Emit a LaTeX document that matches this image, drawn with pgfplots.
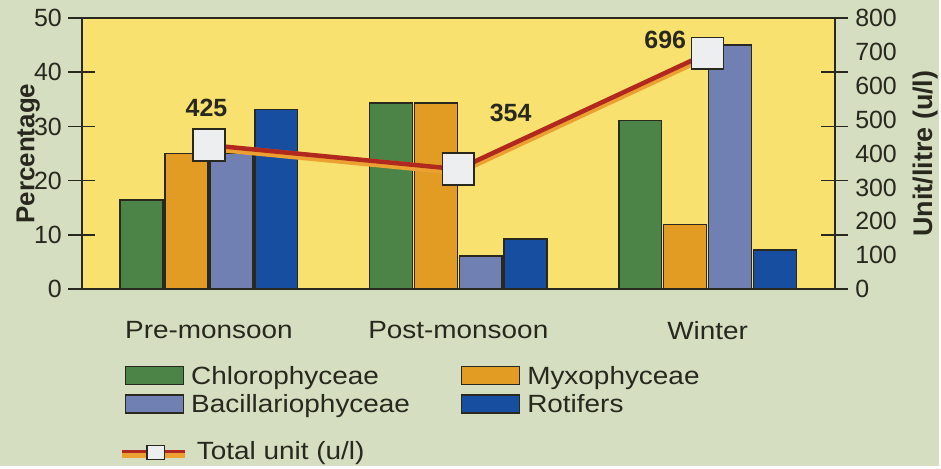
\documentclass[border=0pt]{standalone}
\usepackage{pgfplots}
\pgfplotsset{compat=1.18}
\usepackage{fontspec}
\setmainfont{Liberation Sans}
\newfontfamily\wide[FakeStretch=1.12]{Liberation Sans}
\definecolor{bgc}{RGB}{213,222,192}
\definecolor{plotbg}{RGB}{248,225,110}
\definecolor{cgreen}{RGB}{76,132,72}
\definecolor{corange}{RGB}{226,156,36}
\definecolor{cbac}{RGB}{112,128,178}
\definecolor{crot}{RGB}{24,78,160}
\definecolor{cline}{RGB}{176,40,30}
\definecolor{cedge}{RGB}{236,160,50}
\definecolor{cdark}{RGB}{40,40,30}
\definecolor{cmark}{RGB}{236,238,240}
\begin{document}
\begin{tikzpicture}
\fill[bgc] (0,0) rectangle (941pt,467pt);
\begin{axis}[
  at={(82pt,177pt)}, anchor=south west,
  scale only axis, width=755pt, height=272pt,
  xmin=-0.51, xmax=2.51, ymin=0, ymax=50,
  axis background/.style={fill=plotbg},
  axis line style={draw=cdark, line width=1.5pt},
  ybar=2pt, bar width=43pt,
  xtick={0,1,2}, xticklabels={Pre-monsoon,Post-monsoon,Winter},
  x tick style={draw=none},
  ytick={0,10,20,30,40,50},
  ytick pos=both, yticklabel pos=left,
  tick align=center, major tick length=27pt,
  y tick style={line width=1.5pt, draw=cdark},
  /pgf/number format/assume math mode=true,
  tick label style={font=\fontsize{25}{30}\selectfont, text=cdark},
  yticklabel style={xshift=-3pt},
  xticklabel style={font=\wide\fontsize{25}{30}\selectfont, yshift=-15pt},
  ylabel={\textbf{Percentage}},
  every axis y label/.style={at={(axis description cs:-0.071,0.5)}, rotate=90, anchor=center,
    font=\fontsize{26}{30}\selectfont, text=cdark},
  legend columns=2,
  legend image code/.code={\draw[#1] (0pt,-7pt) rectangle (58pt,11pt); \path (63pt,0pt);},
  legend style={at={(axis description cs:0.053,-0.268)}, anchor=north west,
    draw=none, fill=none, font=\wide\fontsize{25}{30}\selectfont, text=cdark,
    nodes={text height=18pt, text depth=5pt},
    /tikz/every even column/.append style={column sep=49pt},
    row sep=1.5pt},
  legend cell align=left,
]
\addplot[fill=cgreen, draw=cdark, line width=1.5pt] coordinates {(0,16.4) (1,34.3) (2,31.1)};
\addplot[fill=corange, draw=cdark, line width=1.5pt] coordinates {(0,25.0) (1,34.3) (2,11.9)};
\addplot[fill=cbac, draw=cdark, line width=1.5pt] coordinates {(0,25.0) (1,6.1) (2,45.0)};
\addplot[fill=crot, draw=cdark, line width=1.5pt] coordinates {(0,33.1) (1,9.3) (2,7.2)};
\legend{Chlorophyceae, Myxophyceae, Bacillariophyceae, Rotifers}
\end{axis}
\begin{axis}[
  at={(82pt,177pt)}, anchor=south west,
  scale only axis, width=755pt, height=272pt,
  xmin=-0.51, xmax=2.51, ymin=0, ymax=800,
  hide x axis,
  axis y line*=right,
  y axis line style={draw=none},
  ytick={0,100,...,800},
  major tick length=0pt,
  /pgf/number format/assume math mode=true,
  tick label style={font=\fontsize{25}{30}\selectfont, text=cdark},
  yticklabel style={xshift=17pt},
  ylabel={\textbf{Unit/litre (u/l)}},
  every axis y label/.style={at={(axis description cs:1.12,0.5)}, rotate=90, anchor=center,
    font=\fontsize{27}{30}\selectfont, text=cdark},
  legend image code/.code={
    \draw[cedge, line width=6pt] (0pt,-2pt) -- (63pt,-2pt);
    \draw[cline, line width=3.5pt] (0pt,1pt) -- (63pt,1pt);
    \draw[cdark, fill=cmark, line width=1.5pt] (25pt,-7pt) rectangle (43pt,7pt);
    \path (71pt,0pt);},
  legend style={at={(axis description cs:0.045,-0.545)}, anchor=north west,
    draw=none, fill=none, font=\wide\fontsize{25}{30}\selectfont, text=cdark,
    nodes={text height=18pt, text depth=5pt}},
]
\addplot[cedge, line width=8pt, forget plot, yshift=-2pt] coordinates {(0,425) (1,354) (2,696)};
\addplot[cline, line width=4.5pt, mark=square*, mark size=16pt,
  mark options={fill=cmark, draw=cdark, line width=1.5pt}] coordinates {(0,425) (1,354) (2,696)};
\legend{Total unit (u/l)}
\node[font=\bfseries\fontsize{25}{30}\selectfont, text=cdark] at (axis cs:-0.01,535) {425};
\node[font=\bfseries\fontsize{25}{30}\selectfont, text=cdark] at (axis cs:1.21,520) {354};
\node[font=\bfseries\fontsize{25}{30}\selectfont, text=cdark] at (axis cs:1.83,735) {696};
\end{axis}
\end{tikzpicture}
\end{document}
